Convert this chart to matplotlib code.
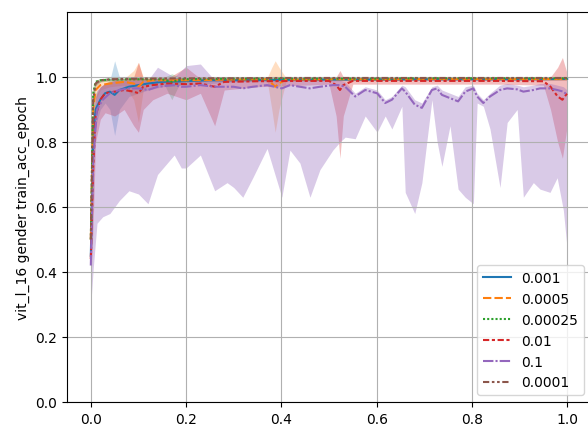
import matplotlib
matplotlib.use("Agg")
import matplotlib.pyplot as plt

labels = ["0.001", "0.0005", "0.00025", "0.01", "0.1", "0.0001"]
colors = ["#1f77b4", "#ff7f0e", "#2ca02c", "#d62728", "#9467bd", "#8c564b"]
dashes = [(None, None), (4, 1.5), (1, 1), (3, 1.25, 1.5, 1.25), (5, 1, 1, 1),
          (3, 1.25, 1.25, 1.25, 1.25, 1.25)]
band_alpha = [0.25, 0.25, 0.25, 0.3, 0.35, 0.25]

# ---- 0.001 (blue)
x_001 = [0, 0.005, 0.01, 0.02, 0.03, 0.04, 0.05, 0.06, 0.08, 0.1, 0.12, 0.15, 0.2, 0.25, 0.3, 0.4, 0.5, 0.6, 0.7, 0.8, 0.9, 1.0]
m_001 = [0.45, 0.82, 0.90, 0.93, 0.95, 0.955, 0.945, 0.96, 0.97, 0.975, 0.98, 0.985, 0.987, 0.99, 0.99, 0.991, 0.992, 0.992, 0.993, 0.993, 0.993, 0.994]
lo_001 = [0.35, 0.70, 0.85, 0.90, 0.92, 0.90, 0.82, 0.90, 0.94, 0.95, 0.96, 0.97, 0.975, 0.98, 0.985, 0.987, 0.988, 0.989, 0.99, 0.99, 0.99, 0.99]
hi_001 = [0.55, 0.92, 0.95, 0.97, 0.98, 0.99, 1.05, 1.00, 0.99, 0.995, 0.995, 0.995, 0.997, 0.997, 0.997, 0.997, 0.997, 0.997, 0.997, 0.997, 0.997, 0.997]

# ---- 0.0005 (orange)
x_0005 = [0, 0.005, 0.01, 0.02, 0.04, 0.07, 0.09, 0.1, 0.11, 0.13, 0.2, 0.3, 0.37, 0.38, 0.387, 0.395, 0.41, 0.5, 0.6, 0.7, 0.8, 0.9, 1.0]
m_0005 = [0.50, 0.90, 0.96, 0.975, 0.98, 0.985, 0.98, 0.97, 0.985, 0.99, 0.99, 0.992, 0.993, 0.98, 0.97, 0.98, 0.992, 0.993, 0.993, 0.994, 0.994, 0.994, 0.994]
lo_0005 = [0.40, 0.82, 0.93, 0.96, 0.97, 0.975, 0.93, 0.86, 0.96, 0.985, 0.985, 0.988, 0.99, 0.90, 0.83, 0.90, 0.988, 0.99, 0.99, 0.99, 0.99, 0.99, 0.99]
hi_0005 = [0.60, 0.96, 0.985, 0.99, 0.99, 0.995, 1.02, 1.045, 1.0, 0.995, 0.995, 0.996, 0.997, 1.03, 1.05, 1.03, 0.997, 0.997, 0.997, 0.998, 0.998, 0.998, 0.998]

# ---- 0.00025 (green)
x_00025 = [0, 0.005, 0.01, 0.02, 0.04, 0.08, 0.15, 0.17, 0.19, 0.3, 0.4, 0.5, 0.6, 0.7, 0.8, 0.9, 1.0]
m_00025 = [0.50, 0.95, 0.985, 0.99, 0.992, 0.993, 0.993, 0.985, 0.993, 0.995, 0.995, 0.995, 0.995, 0.996, 0.996, 0.996, 0.996]
lo_00025 = [0.42, 0.92, 0.975, 0.985, 0.988, 0.99, 0.99, 0.93, 0.99, 0.992, 0.992, 0.992, 0.992, 0.993, 0.993, 0.993, 0.993]
hi_00025 = [0.58, 0.975, 0.99, 0.995, 0.996, 0.997, 0.997, 1.01, 0.997, 0.998, 0.998, 0.998, 0.998, 0.998, 0.998, 0.998, 0.998]

# ---- 0.01 (red)
x_01 = [0, 0.005, 0.01, 0.02, 0.03, 0.05, 0.07, 0.09, 0.1, 0.11, 0.13, 0.16, 0.2, 0.23, 0.26, 0.28, 0.35, 0.45, 0.5, 0.515, 0.523, 0.53, 0.55, 0.65, 0.75, 0.85, 0.95, 0.965, 0.98, 0.99, 1.0]
m_01 = [0.44, 0.72, 0.88, 0.93, 0.95, 0.955, 0.96, 0.955, 0.95, 0.97, 0.975, 0.98, 0.978, 0.98, 0.97, 0.985, 0.987, 0.988, 0.988, 0.975, 0.96, 0.975, 0.988, 0.988, 0.988, 0.988, 0.987, 0.97, 0.94, 0.93, 0.95]
lo_01 = [0.36, 0.55, 0.80, 0.87, 0.89, 0.88, 0.90, 0.85, 0.83, 0.90, 0.93, 0.95, 0.93, 0.95, 0.85, 0.96, 0.97, 0.975, 0.978, 0.88, 0.75, 0.88, 0.978, 0.978, 0.978, 0.978, 0.975, 0.90, 0.80, 0.75, 0.85]
hi_01 = [0.52, 0.85, 0.94, 0.97, 0.98, 0.99, 0.99, 1.0, 1.045, 0.995, 0.995, 0.995, 1.03, 0.995, 1.0, 0.995, 0.995, 0.995, 0.996, 1.0, 1.02, 1.0, 0.996, 0.996, 0.996, 0.996, 0.996, 1.0, 1.03, 1.06, 1.01]

# ---- 0.1 (purple)
x_1 = [0, 0.005, 0.013, 0.025, 0.04, 0.06, 0.08, 0.1, 0.12, 0.14, 0.175, 0.19, 0.2, 0.23, 0.26, 0.286, 0.3, 0.319, 0.34, 0.37, 0.401, 0.418, 0.439, 0.46, 0.481, 0.508, 0.523, 0.534, 0.555, 0.576, 0.601, 0.618, 0.632, 0.653, 0.66, 0.68, 0.695, 0.716, 0.727, 0.737, 0.754, 0.771, 0.786, 0.803, 0.811, 0.824, 0.838, 0.859, 0.874, 0.895, 0.908, 0.929, 0.943, 0.964, 0.979, 0.992, 1.0]
m_1 = [0.42, 0.75, 0.90, 0.93, 0.95, 0.96, 0.965, 0.965, 0.96, 0.97, 0.975, 0.97, 0.97, 0.975, 0.97, 0.97, 0.97, 0.965, 0.97, 0.975, 0.965, 0.975, 0.97, 0.965, 0.97, 0.975, 0.975, 0.97, 0.94, 0.96, 0.95, 0.92, 0.93, 0.965, 0.955, 0.915, 0.905, 0.96, 0.965, 0.945, 0.935, 0.925, 0.955, 0.965, 0.94, 0.92, 0.94, 0.96, 0.965, 0.962, 0.955, 0.96, 0.965, 0.965, 0.96, 0.955, 0.945]
lo_1 = [0.30, 0.41, 0.55, 0.57, 0.58, 0.62, 0.65, 0.64, 0.61, 0.70, 0.76, 0.72, 0.72, 0.76, 0.65, 0.675, 0.66, 0.63, 0.69, 0.78, 0.63, 0.775, 0.735, 0.63, 0.715, 0.775, 0.80, 0.815, 0.81, 0.88, 0.83, 0.88, 0.84, 0.91, 0.645, 0.58, 0.675, 0.93, 0.80, 0.725, 0.85, 0.655, 0.63, 0.61, 0.92, 0.91, 0.84, 0.66, 0.86, 0.90, 0.63, 0.675, 0.655, 0.645, 0.69, 0.59, 0.47]
hi_1 = [0.50, 0.88, 0.96, 0.975, 0.985, 0.99, 0.99, 0.99, 0.99, 1.03, 1.0, 1.02, 1.035, 1.04, 0.99, 0.99, 0.99, 0.99, 0.99, 0.99, 0.99, 0.99, 0.99, 0.99, 0.99, 0.99, 0.99, 0.985, 0.95, 0.97, 0.96, 0.93, 0.94, 0.975, 0.97, 0.93, 0.92, 0.97, 0.975, 0.96, 0.95, 0.94, 0.97, 0.975, 0.95, 0.93, 0.95, 0.975, 0.98, 0.975, 0.97, 0.975, 0.98, 0.98, 0.975, 0.97, 0.96]

# ---- 0.0001 (brown)
x_0001 = [0, 0.005, 0.01, 0.02, 0.04, 0.1, 0.2, 0.3, 0.4, 0.5, 0.6, 0.7, 0.8, 0.9, 1.0]
m_0001 = [0.50, 0.93, 0.98, 0.99, 0.993, 0.995, 0.996, 0.996, 0.997, 0.997, 0.997, 0.997, 0.997, 0.997, 0.997]
lo_0001 = [0.44, 0.90, 0.97, 0.985, 0.99, 0.992, 0.993, 0.993, 0.994, 0.994, 0.994, 0.994, 0.994, 0.994, 0.994]
hi_0001 = [0.56, 0.96, 0.99, 0.995, 0.996, 0.998, 0.998, 0.999, 0.999, 0.999, 0.999, 0.999, 0.999, 0.999, 0.999]

series = [
    (x_001, m_001, lo_001, hi_001),
    (x_0005, m_0005, lo_0005, hi_0005),
    (x_00025, m_00025, lo_00025, hi_00025),
    (x_01, m_01, lo_01, hi_01),
    (x_1, m_1, lo_1, hi_1),
    (x_0001, m_0001, lo_0001, hi_0001),
]

fig = plt.figure(figsize=(5.88, 4.31), dpi=100)
ax = fig.add_axes([67 / 588, 28 / 431, 524 / 588, 390 / 431])

for (xs, ms, los, his), lab, col, dsh, a in zip(series, labels, colors, dashes, band_alpha):
    line, = ax.plot(xs, ms, color=col, lw=1.5, label=lab)
    if dsh[0] is not None:
        line.set_dashes(dsh)
    ax.fill_between(xs, los, his, color=col, alpha=a, linewidth=0)

ax.set_xlim(-0.05, 1.05)
ax.set_ylim(0, 1.2)
ax.set_xticks([0.0, 0.2, 0.4, 0.6, 0.8, 1.0])
ax.set_yticks([0.0, 0.2, 0.4, 0.6, 0.8, 1.0])
ax.grid(True)
ax.set_ylabel("vit_l_16 gender train_acc_epoch")
ax.legend(loc="lower right")

fig.savefig("out.png", dpi=100)
